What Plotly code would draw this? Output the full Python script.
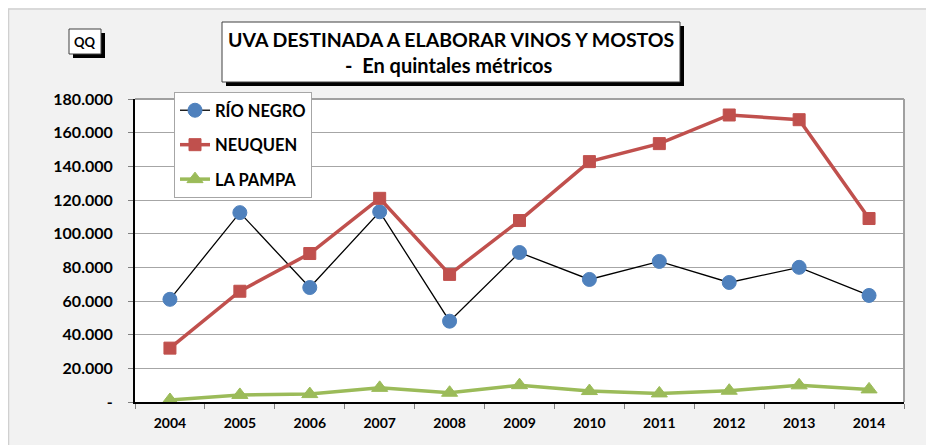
import plotly.graph_objects as go

years = ["2004", "2005", "2006", "2007", "2008", "2009", "2010", "2011", "2012", "2013", "2014"]
rio_negro = [61000, 112500, 68000, 113000, 48000, 88800, 72800, 83500, 71000, 80000, 63300]
neuquen = [32000, 65800, 88200, 121000, 75800, 107800, 142800, 153500, 170500, 167700, 109000]
la_pampa = [1200, 4200, 4700, 8400, 5500, 10000, 6500, 5100, 6700, 9900, 7500]
y_ticks = [0, 20000, 40000, 60000, 80000, 100000, 120000, 140000, 160000, 180000]
y_labels = ["-", "20.000", "40.000", "60.000", "80.000", "100.000", "120.000", "140.000", "160.000", "180.000"]

OFF = 8  # page body margin
W, H = 934 - OFF, 445 - OFF
# plot area in screen pixels
SL, SR, ST, SB = 135, 904, 99, 402
L, R, T, B = SL - OFF, SR - OFF, ST - OFF, SB - OFF


def px(x):
    # screen x -> paper
    return (x - SL) / (SR - SL)


def py(y):
    # screen y -> paper
    return (SB - y) / (SB - ST)


FONT = "Lato"

fig = go.Figure()
fig.add_trace(go.Scatter(
    x=years, y=rio_negro, name="RÍO NEGRO", mode="lines+markers",
    line=dict(color="black", width=1.3),
    marker=dict(symbol="circle", size=14, color="#4f81bd", line=dict(color="#4f81bd", width=1)),
    legendgroup="a",
))
fig.add_trace(go.Scatter(
    x=years, y=neuquen, name="NEUQUEN", mode="lines+markers",
    line=dict(color="#c0504d", width=3.5),
    marker=dict(symbol="square", size=12, color="#c0504d", line=dict(color="#c0504d", width=1)),
    legendgroup="b",
))
fig.add_trace(go.Scatter(
    x=years, y=la_pampa, name="LA PAMPA", mode="lines+markers",
    line=dict(color="#9bbb59", width=3.5),
    marker=dict(symbol="triangle-up", size=14, color="#9bbb59", line=dict(color="#9bbb59", width=1)),
    legendgroup="c",
))

shapes = []
# chart area border (top/left)
shapes.append(dict(type="line", xref="paper", yref="paper", x0=px(8), x1=px(W + 20), y0=py(9), y1=py(9),
                   line=dict(color="#d0d0d0", width=1.5)))
shapes.append(dict(type="line", xref="paper", yref="paper", x0=px(8.5), x1=px(8.5), y0=py(9), y1=py(H + 20),
                   line=dict(color="#d0d0d0", width=1.5)))
# plot area top/right gray border
shapes.append(dict(type="line", xref="paper", yref="paper", x0=0, x1=1, y0=1, y1=1,
                   line=dict(color="#a0a0a0", width=2)))
shapes.append(dict(type="line", xref="paper", yref="paper", x0=1, x1=1, y0=0, y1=1,
                   line=dict(color="#a0a0a0", width=2)))
# QQ box with shadow
shapes.append(dict(type="rect", xref="paper", yref="paper", x0=px(73), x1=px(105), y0=py(58), y1=py(33),
                   fillcolor="black", line=dict(width=0)))
shapes.append(dict(type="rect", xref="paper", yref="paper", x0=px(69), x1=px(101), y0=py(54), y1=py(29),
                   fillcolor="white", line=dict(color="#404040", width=1)))
# Title box with shadow
shapes.append(dict(type="rect", xref="paper", yref="paper", x0=px(226), x1=px(684), y0=py(86), y1=py(26),
                   fillcolor="black", line=dict(width=0)))
shapes.append(dict(type="rect", xref="paper", yref="paper", x0=px(222), x1=px(680), y0=py(82), y1=py(22),
                   fillcolor="white", line=dict(color="#404040", width=1)))

annotations = [
    dict(text="<b>QQ</b>", x=px(85), y=py(42), xref="paper", yref="paper", showarrow=False,
         font=dict(family=FONT, size=13, color="black"), xanchor="center", yanchor="middle"),
    dict(text="<b>UVA DESTINADA A ELABORAR VINOS Y MOSTOS</b>", x=px(451), y=py(40), xref="paper", yref="paper",
         showarrow=False, font=dict(family=FONT, size=19.5, color="black"), xanchor="center", yanchor="middle"),
    dict(text="<b>-  En quintales métricos</b>", x=px(449), y=py(65), xref="paper", yref="paper",
         showarrow=False, font=dict(family=FONT, size=20, color="black"), xanchor="center", yanchor="middle"),
]

fig.update_layout(
    width=W, height=H,
    margin=dict(l=L, r=W - R, t=T, b=H - B, pad=0),
    paper_bgcolor="#f2f2f2",
    plot_bgcolor="white",
    showlegend=True,
    legend=dict(
        x=px(174), y=py(92), xanchor="left", yanchor="top",
        bgcolor="white", bordercolor="#a6a6a6", borderwidth=1,
        font=dict(family=FONT, size=16.5, color="black", weight="bold"),
        traceorder="grouped", tracegroupgap=10, itemwidth=30,
    ),
    xaxis=dict(
        type="category", range=[-0.5, 10.5],
        showgrid=False, showline=True, linecolor="black", linewidth=2,
        ticks="outside", tickson="boundaries", ticklen=5, tickcolor="#808080",
        tickfont=dict(family=FONT, size=14, color="black", weight="bold"),
        ticklabelstandoff=7,
    ),
    yaxis=dict(
        range=[0, 180000], tickvals=y_ticks, ticktext=y_labels,
        showgrid=True, gridcolor="#a6a6a6", gridwidth=1,
        showline=True, linecolor="black", linewidth=2, zeroline=False,
        ticks="outside", ticklen=5, tickcolor="#808080",
        tickfont=dict(family=FONT, size=16, color="black", weight="bold"),
        ticklabelstandoff=12,
    ),
    shapes=shapes,
    annotations=annotations,
)

fig.write_html("out.html")
